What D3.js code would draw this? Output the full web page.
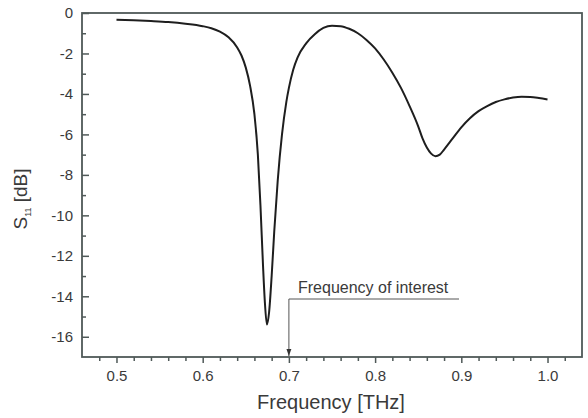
<!DOCTYPE html>
<html>
<head>
<meta charset="utf-8">
<script src="https://cdn.jsdelivr.net/npm/d3@7"></script>
<style>
  html, body { margin: 0; padding: 0; background: #fff; }
  svg { display: block; font-family: "Liberation Sans", Arial, sans-serif; }
</style>
</head>
<body>
<svg id="chart" width="588" height="418"></svg>
<script>
// Data
const freq = [0.50, 0.52, 0.54, 0.56, 0.58, 0.60, 0.61, 0.62, 0.63, 0.64, 0.645, 0.65, 0.655, 0.66, 0.664, 0.667, 0.670, 0.672, 0.6745, 0.677, 0.680, 0.683, 0.687, 0.692, 0.697, 0.70, 0.705, 0.71, 0.72, 0.73, 0.74, 0.75, 0.76, 0.77, 0.78, 0.79, 0.80, 0.81, 0.82, 0.83, 0.84, 0.85, 0.855, 0.86, 0.865, 0.87, 0.875, 0.88, 0.89, 0.90, 0.91, 0.92, 0.93, 0.94, 0.95, 0.96, 0.97, 0.98, 0.99, 1.00];
const s11  = [-0.33, -0.36, -0.40, -0.45, -0.53, -0.65, -0.75, -0.92, -1.2, -1.7, -2.1, -2.7, -3.6, -5.0, -7.0, -9.5, -12.5, -14.2, -15.4, -14.8, -13.0, -10.8, -8.3, -6.0, -4.4, -3.7, -2.8, -2.2, -1.5, -1.05, -0.74, -0.63, -0.65, -0.78, -1.0, -1.33, -1.75, -2.3, -2.95, -3.7, -4.6, -5.6, -6.2, -6.65, -6.95, -7.08, -7.0, -6.75, -6.2, -5.65, -5.2, -4.85, -4.6, -4.4, -4.27, -4.18, -4.14, -4.15, -4.2, -4.27];
const xTicks = [0.5, 0.6, 0.7, 0.8, 0.9, 1.0];
const xMinorTicks = [0.48, 0.52, 0.54, 0.56, 0.58, 0.62, 0.64, 0.66, 0.68, 0.72, 0.74, 0.76, 0.78, 0.82, 0.84, 0.86, 0.88, 0.92, 0.94, 0.96, 0.98, 1.02];
const yTicks = [0, -2, -4, -6, -8, -10, -12, -14, -16];
const yMinorTicks = [-1, -3, -5, -7, -9, -11, -13, -15];
const annotationFreq = 0.7;
const annotationText = "Frequency of interest";

const svg = d3.select("#chart");
const L = 82, T = 13, R = 582, B = 357;
const x = d3.scaleLinear().domain([0.46, 1.04]).range([L, R]);
const y = d3.scaleLinear().domain([-17, 0]).range([B, T]);
const frameColor = "#4f5958";
const textColor = "#3a3a3a";

// x axis (ticks outward)
svg.append("g").attr("transform", `translate(0,${B})`)
  .call(d3.axisBottom(x).tickValues(xTicks).tickFormat(d3.format(".1f")).tickSizeInner(6).tickSizeOuter(0).tickPadding(7));
svg.append("g").attr("transform", `translate(0,${B})`)
  .call(d3.axisBottom(x).tickValues(xMinorTicks).tickFormat("").tickSizeInner(4).tickSizeOuter(0))
  .call(g => g.select(".domain").remove());

// y axis (ticks inward)
svg.append("g").attr("transform", `translate(${L},0)`)
  .call(d3.axisLeft(y).tickValues(yTicks).tickFormat(d => d3.format("d")(d).replace("−", "-")).tickSizeInner(-7).tickSizeOuter(0).tickPadding(9));
svg.append("g").attr("transform", `translate(${L},0)`)
  .call(d3.axisLeft(y).tickValues(yMinorTicks).tickFormat("").tickSizeInner(-4).tickSizeOuter(0))
  .call(g => g.select(".domain").remove());

svg.selectAll(".domain").remove();
svg.selectAll(".tick line").attr("stroke", frameColor).attr("stroke-width", 1.5);
svg.selectAll(".tick text").attr("fill", textColor).attr("font-size", 15)
  .attr("font-family", "'Liberation Sans', Arial, sans-serif");

// frame
svg.append("rect").attr("x", L).attr("y", T).attr("width", R - L).attr("height", B - T)
  .attr("fill", "none").attr("stroke", frameColor).attr("stroke-width", 1.8);

// curve
const data = freq.map((f, i) => [f, s11[i]]);
svg.append("path").datum(data)
  .attr("fill", "none").attr("stroke", "#1e1e1e").attr("stroke-width", 2)
  .attr("d", d3.line().x(d => x(d[0])).y(d => y(d[1])).curve(d3.curveMonotoneX));

// annotation
const ax = x(annotationFreq);
svg.append("defs").append("marker").attr("id", "arrow")
  .attr("viewBox", "0 0 10 10").attr("refX", 10).attr("refY", 5)
  .attr("markerWidth", 7).attr("markerHeight", 7).attr("orient", "auto")
  .append("path").attr("d", "M0,1.5 L10,5 L0,8.5 Z").attr("fill", "#333");
svg.append("path")
  .attr("d", `M459,299 H${ax} V${B - 1}`)
  .attr("fill", "none").attr("stroke", "#555").attr("stroke-width", 1)
  .attr("marker-end", "url(#arrow)");
svg.append("text").attr("x", 298).attr("y", 293).attr("fill", textColor)
  .attr("font-size", 16).text(annotationText);

// axis titles
svg.append("text").attr("x", 331).attr("y", 409).attr("text-anchor", "middle")
  .attr("fill", textColor).attr("font-size", 20).text("Frequency [THz]");
const yt = svg.append("text").attr("transform", "translate(27,199) rotate(-90)")
  .attr("text-anchor", "middle").attr("fill", textColor).attr("font-size", 19);
yt.append("tspan").text("S");
yt.append("tspan").attr("font-size", 9).attr("dy", 4).text("11");
yt.append("tspan").attr("dy", -4).text(" [dB]");
</script>
</body>
</html>
